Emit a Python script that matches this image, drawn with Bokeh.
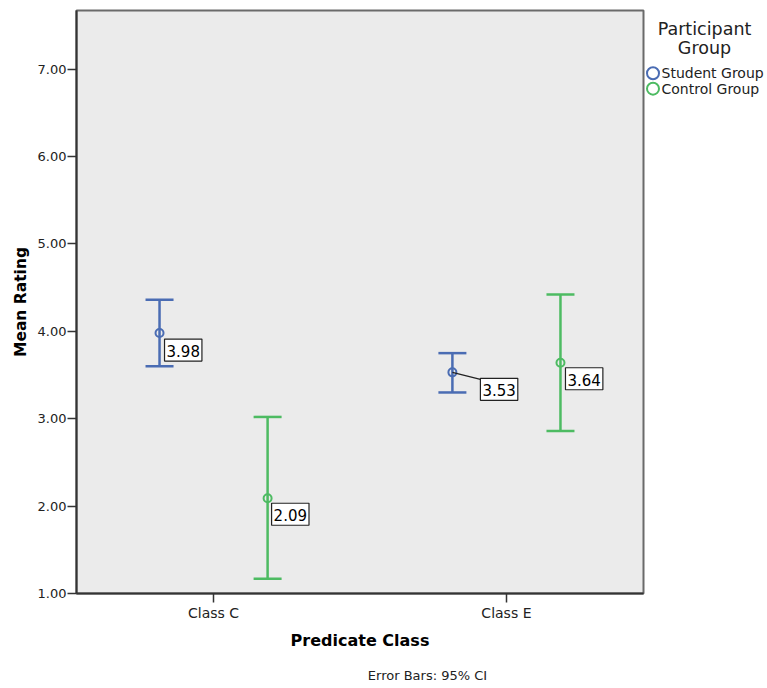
from bokeh.plotting import figure
from bokeh.layouts import row, column
from bokeh.models import (ColumnDataSource, Whisker, TeeHead, Label,
                          FixedTicker, NumeralTickFormatter, Range1d)
from bokeh.core.properties import value
from bokeh.embed import file_html
from bokeh.resources import INLINE

# ---- data ----
categories = ["Class C", "Class E"]
groups = ["Student Group", "Control Group"]
student_mean = [3.98, 3.53]
student_lower = [3.60, 3.30]
student_upper = [4.36, 3.75]
control_mean = [2.09, 3.64]
control_lower = [1.17, 2.86]
control_upper = [3.02, 4.42]
y_ticks = [1, 2, 3, 4, 5, 6, 7]
legend_title = ["Participant", "Group"]
note_text = "Error Bars: 95% CI"

# ---- styles / layout ----
BLUE = "#4a6cb3"
GREEN = "#4dbb62"
FONT = "DejaVu Sans"
dodge = 0.1845
label_dx = {"Student Group": [5, 28], "Control Group": [4, 5]}
label_dy = {"Student Group": [6, 6], "Control Group": [5, 5]}
colors = {"Student Group": BLUE, "Control Group": GREEN}

MAIN_W, MAIN_H = 645, 660
cat_x = list(range(len(categories)))

p = figure(width=MAIN_W, height=MAIN_H, output_backend="svg", toolbar_location=None,
           x_range=Range1d(-0.468, len(categories) - 1 + 0.468),
           y_range=Range1d(1.0, 7.67),
           min_border_left=76, min_border_right=2, min_border_top=10, min_border_bottom=67)
p.background_fill_color = "#ebebeb"
p.border_fill_color = "white"
p.outline_line_color = "#6a6a6a"
p.outline_line_width = 2
p.xgrid.visible = False
p.ygrid.visible = False

series = [
    ("Student Group", student_mean, student_lower, student_upper, -dodge),
    ("Control Group", control_mean, control_lower, control_upper, dodge),
]

for name, mean, lo, hi, off in series:
    col = colors[name]
    xs = [c + off for c in cat_x]
    src = ColumnDataSource(dict(x=xs, mean=mean, lower=lo, upper=hi))
    w = Whisker(source=src, base="x", upper="upper", lower="lower", dimension="height",
                line_color=col, line_width=2.5,
                upper_head=TeeHead(size=28, line_color=col, line_width=2.5),
                lower_head=TeeHead(size=28, line_color=col, line_width=2.5))
    p.add_layout(w)
    p.scatter("x", "mean", source=src, size=8, fill_alpha=0, line_color=col, line_width=2)
    for i, (xv, m) in enumerate(zip(xs, mean)):
        dx = label_dx[name][i]
        dy = label_dy[name][i]
        if dx > 10:
            x_per_px = 1.0 / 292.7
            y_per_px = 1.0 / 87.5
            p.line([xv, xv + dx * x_per_px], [m, m - (dy + 1) * y_per_px],
                   line_color="#222222", line_width=1.2)
        lab = Label(x=xv, y=m, x_offset=dx, y_offset=-dy, text="%.2f" % m,
                    text_align="left", text_baseline="top",
                    text_font=FONT, text_font_size="15px", text_color="black",
                    background_fill_color="white", border_line_color="#222222",
                    border_line_width=1.2, padding=(2, 2, 6, 4))
        p.add_layout(lab)

# ---- axes ----
p.yaxis.ticker = FixedTicker(ticks=y_ticks)
p.yaxis.formatter = NumeralTickFormatter(format="0.00")
p.yaxis.axis_label = "Mean Rating"
p.xaxis.ticker = FixedTicker(ticks=cat_x)
p.xaxis.major_label_overrides = {i: c for i, c in enumerate(categories)}
p.xaxis.axis_label = "Predicate Class"
for ax in (p.xaxis[0], p.yaxis[0]):
    ax.axis_line_color = "#333333"
    ax.axis_line_width = 2
    ax.major_tick_line_color = "#333333"
    ax.major_tick_line_width = 1.5
    ax.major_tick_out = 9
    ax.major_tick_in = 0
    ax.minor_tick_line_color = None
    ax.major_label_text_font = FONT
    ax.major_label_text_color = "#222222"
    ax.axis_label_text_font = FONT
    ax.axis_label_text_font_style = "bold"
    ax.axis_label_text_color = "black"
p.yaxis.major_label_text_font_size = "13px"
p.yaxis.major_label_standoff = 1
p.yaxis.axis_label_text_font_size = "15.5px"
p.yaxis.axis_label_standoff = 5
p.xaxis.major_label_text_font_size = "14px"
p.xaxis.major_label_standoff = 2
p.xaxis.axis_label_text_font_size = "16px"
p.xaxis.axis_label_standoff = 7

# ---- legend panel (right) ----
LEG_W = 767 - MAIN_W
leg = figure(width=LEG_W, height=MAIN_H, output_backend="svg", toolbar_location=None,
             x_range=Range1d(MAIN_W, 767), y_range=Range1d(MAIN_H, 0),
             min_border=0, outline_line_color=None)
leg.axis.visible = False
leg.grid.visible = False
leg.background_fill_color = "white"
leg.border_fill_color = "white"
title_y = [21, 42]
leg.text(x=[704] * len(legend_title), y=title_y, text=legend_title,
         text_align="center", text_baseline="middle", text_font=value(FONT),
         text_font_size="17.5px", text_color="#222222")
item_y = [71, 88.5]
leg.scatter(x=[652.5] * len(groups), y=item_y, size=12, fill_alpha=0,
            line_color=[colors[g] for g in groups], line_width=2)
leg.text(x=[661] * len(groups), y=item_y, text=groups,
         text_align="left", text_baseline="middle", text_font=value(FONT),
         text_font_size="14px", text_color="#222222")

# ---- note (bottom) ----
NOTE_H = 688 - MAIN_H
note = figure(width=767, height=NOTE_H, output_backend="svg", toolbar_location=None,
              x_range=Range1d(0, 767), y_range=Range1d(688, MAIN_H),
              min_border=0, outline_line_color=None)
note.axis.visible = False
note.grid.visible = False
note.background_fill_color = "white"
note.border_fill_color = "white"
note.text(x=[427], y=[675], text=[note_text], text_align="center", text_baseline="middle",
          text_font=value(FONT), text_font_size="13px", text_color="#222222")

layout = column(row(p, leg, spacing=0), note, spacing=0)
open("out.html", "w").write(file_html(layout, INLINE))
